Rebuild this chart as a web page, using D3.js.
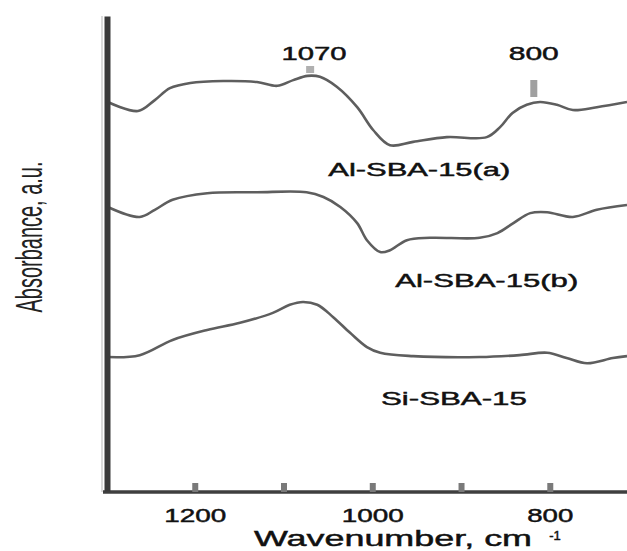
<!DOCTYPE html>
<html>
<head>
<meta charset="utf-8">
<script src="https://cdn.jsdelivr.net/npm/d3@7"></script>
<style>
  body { margin: 0; background: #fff; }
  svg { display: block; font-family: "Liberation Sans", Arial, sans-serif; }
  .lbl { fill: #111; stroke: #111; stroke-width: 0.45px; }
</style>
</head>
<body>
<svg id="chart" width="627" height="551"></svg>
<script>
// spectra (wavenumber cm-1, absorbance a.u.)
const wnA = [1298, 1264, 1245, 1228, 1205, 1168, 1130, 1107, 1089, 1073, 1059, 1040, 1017, 999, 980, 954, 916, 871, 856, 842, 826, 811, 792, 774, 747, 713];
const absA = [81.9, 80.0, 82.3, 84.8, 85.9, 86.3, 86.1, 85.3, 86.5, 87.4, 87.2, 85.1, 80.8, 76.0, 72.8, 73.5, 74.5, 74.5, 76.6, 79.6, 81.3, 81.9, 81.3, 80.2, 80.8, 81.9];

const wnB = [1298, 1262, 1245, 1225, 1186, 1130, 1074, 1055, 1036, 1017, 1006, 991, 980, 961, 935, 879, 859, 841, 822, 803, 774, 747, 713];
const absB = [59.8, 57.7, 59.2, 61.3, 62.7, 62.9, 62.9, 61.9, 59.8, 56.4, 52.8, 50.3, 50.7, 52.8, 53.3, 53.3, 54.3, 56.4, 58.5, 58.7, 57.7, 59.2, 60.2];

const wnSi = [1298, 1262, 1225, 1186, 1149, 1112, 1093, 1078, 1062, 1044, 1025, 1006, 991, 954, 879, 834, 803, 781, 758, 729, 713];
const absSi = [28.2, 28.6, 31.8, 33.9, 35.4, 37.5, 39.2, 39.8, 39.2, 36.6, 33.3, 30.3, 29.1, 28.4, 28.2, 28.6, 29.1, 28.0, 26.9, 28.0, 28.4];

// series names and where their labels sit (wavenumber of label centre, absorbance of baseline)
const seriesNames = ['Al-SBA-15(a)', 'Al-SBA-15(b)', 'Si-SBA-15'];
const labelWn = [947, 871, 908];
const labelAbs = [66.3, 42.9, 18.1];

// band annotations
const bandWn = [1070, 818];
const bandText = ['1070', '800'];

const tickValues = [1200, 1100, 1000, 900, 800];
const tickLabels = ['1200', '', '1000', '', '800'];

const svg = d3.select('#chart');

const x = d3.scaleLinear().domain([1300, 713]).range([106, 627]);
const y = d3.scaleLinear().domain([0, 100]).range([491, 16]);

// curves
const line = d3.line()
    .curve(d3.curveCatmullRom.alpha(0.5))
    .x(d => x(d[0]))
    .y(d => y(d[1]));

const series = [
    d3.zip(wnA, absA),
    d3.zip(wnB, absB),
    d3.zip(wnSi, absSi)
];

svg.append('g')
    .selectAll('path')
    .data(series)
    .join('path')
    .attr('fill', 'none')
    .attr('stroke', '#5e5e5e')
    .attr('stroke-width', 2.6)
    .attr('stroke-linejoin', 'round')
    .attr('d', line);

// series labels (the figure is stretched sideways, so glyphs get widened)
const labelWidth = [182, 183, 146];
svg.append('g')
    .selectAll('text')
    .data(seriesNames)
    .join('text')
    .attr('class', 'lbl')
    .attr('x', (d, i) => x(labelWn[i]))
    .attr('y', (d, i) => y(labelAbs[i]))
    .attr('text-anchor', 'middle')
    .attr('font-size', 18)
    .attr('textLength', (d, i) => labelWidth[i])
    .attr('lengthAdjust', 'spacingAndGlyphs')
    .text(d => d);

// band markers
svg.append('rect')
    .attr('x', x(bandWn[0]) - 4)
    .attr('y', 66)
    .attr('width', 8)
    .attr('height', 7)
    .attr('fill', '#b0b0b0');
svg.append('rect')
    .attr('x', x(bandWn[1]) - 3.5)
    .attr('y', 80)
    .attr('width', 7)
    .attr('height', 17)
    .attr('fill', '#a0a0a0');

svg.append('g')
    .selectAll('text')
    .data(bandText)
    .join('text')
    .attr('class', 'lbl')
    .attr('x', (d, i) => x(bandWn[i]) + (i === 0 ? 4 : 0))
    .attr('y', 60)
    .attr('text-anchor', 'middle')
    .attr('font-size', 18)
    .attr('textLength', d => d.length === 4 ? 65 : 50)
    .attr('lengthAdjust', 'spacingAndGlyphs')
    .text(d => d);

// x axis
const xAxis = svg.append('g')
    .attr('transform', 'translate(0,492)')
    .call(d3.axisBottom(x)
        .tickValues(tickValues)
        .tickFormat((d, i) => tickLabels[i])
        .tickSizeInner(-9)
        .tickSizeOuter(0)
        .tickPadding(17));
xAxis.select('.domain')
    .attr('stroke', '#3f3f3f')
    .attr('stroke-width', 3.5)
    .attr('d', 'M103,0H627');
xAxis.selectAll('.tick line')
    .attr('stroke', '#7a7a7a')
    .attr('stroke-width', 6);
xAxis.selectAll('.tick text')
    .attr('class', 'lbl')
    .attr('font-size', 18)
    .attr('textLength', d => d === 800 ? 46 : 62)
    .attr('lengthAdjust', 'spacingAndGlyphs');
xAxis.selectAll('.tick').filter(d => d === 1100 || d === 900).select('text').remove();

// y axis: just the heavy spine
const yAxis = svg.append('g')
    .attr('transform', 'translate(107,0)')
    .call(d3.axisLeft(y).tickValues([]).tickSizeOuter(0));
yAxis.select('.domain')
    .attr('stroke', '#3a3a3a')
    .attr('stroke-width', 6);
svg.append('line')
    .attr('x1', 102).attr('x2', 102)
    .attr('y1', 16).attr('y2', 492)
    .attr('stroke', '#cfcfcf')
    .attr('stroke-width', 1.5);

// axis titles
svg.append('text')
    .attr('class', 'lbl')
    .attr('x', 393)
    .attr('y', 546)
    .attr('text-anchor', 'middle')
    .attr('font-size', 22)
    .attr('textLength', 278)
    .attr('lengthAdjust', 'spacingAndGlyphs')
    .text('Wavenumber, cm');
svg.append('text')
    .attr('class', 'lbl')
    .attr('x', 555)
    .attr('y', 540)
    .attr('text-anchor', 'middle')
    .attr('font-size', 13)
    .text('-1');

svg.append('text')
    .attr('transform', 'translate(42,237) rotate(-90)')
    .attr('text-anchor', 'middle')
    .attr('font-size', 36)
    .attr('fill', '#222')
    .attr('textLength', 151)
    .attr('lengthAdjust', 'spacingAndGlyphs')
    .text('Absorbance, a.u.');
</script>
</body>
</html>
